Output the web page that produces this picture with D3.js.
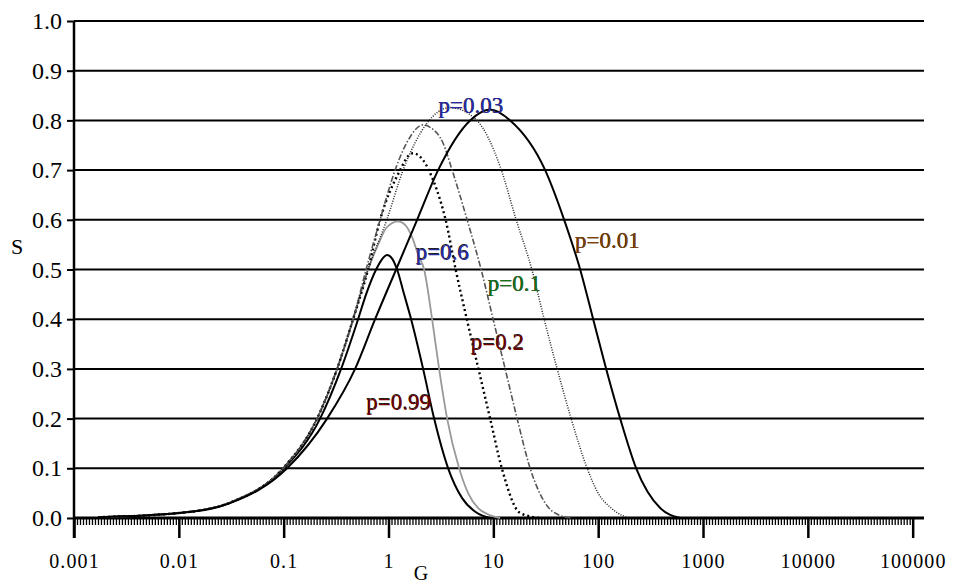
<!DOCTYPE html>
<html>
<head>
<meta charset="utf-8">
<script src="https://cdn.jsdelivr.net/npm/d3@7"></script>
<style>
  body { margin: 0; background: #fff; }
  svg { display: block; }
  text { font-family: "Liberation Serif", "Times New Roman", serif; }
</style>
</head>
<body>
<svg width="960" height="585"></svg>
<script>
// tick labels
const xTicks = [0.001, 0.01, 0.1, 1, 10, 100, 1000, 10000, 100000];
const xTickLabels = ['0.001', '0.01', '0.1', '1', '10', '100', '1000', '10000', '100000'];
const yTicks = [0, 0.1, 0.2, 0.3, 0.4, 0.5, 0.6, 0.7, 0.8, 0.9, 1.0];

// curves: [G, S]
const p099 = [[0.0017, 0.0017], [0.01, 0.01], [0.03, 0.03], [0.0987, 0.098], [0.2225, 0.2], [0.353, 0.3],
  [0.5128, 0.4], [0.6111, 0.45], [0.7616, 0.5], [0.8501, 0.518], [0.9696, 0.529], [1.082, 0.522],
  [1.208, 0.5], [1.409, 0.45], [1.643, 0.4], [2.1389, 0.3], [2.724, 0.2], [3.705, 0.1],
  [5.0393, 0.04], [7.0049, 0.01], [9.3218, 0]];
const p06 = [[0.0017, 0.0017], [0.01, 0.01], [0.03, 0.03], [0.0987, 0.1], [0.2083, 0.2], [0.3232, 0.3],
  [0.4594, 0.4], [0.6386, 0.5], [0.7958, 0.55], [0.9634, 0.585], [1.2348, 0.597], [1.44, 0.59],
  [1.68, 0.565], [1.9165, 0.53], [2.1863, 0.5], [2.6062, 0.4], [3.0392, 0.3], [3.6241, 0.2],
  [4.718, 0.1], [5.748, 0.05], [7.161, 0.02], [8.7298, 0.008], [11.612, 0]];
const p02 = [[0.0017, 0.0017], [0.01, 0.01], [0.03, 0.03], [0.0987, 0.1], [0.2083, 0.2], [0.3232, 0.3],
  [0.4594, 0.4], [0.6386, 0.5], [0.8313, 0.6], [1.2903, 0.7], [1.5382, 0.728], [1.7171, 0.734],
  [2.1389, 0.72], [2.6642, 0.68], [3.1071, 0.64], [3.507, 0.6], [4.37, 0.5], [5.5861, 0.4],
  [7.2078, 0.3], [9.3218, 0.2], [12.053, 0.1], [18.02, 0.01], [27.97, 0]];
const p01 = [[0.0017, 0.0017], [0.01, 0.01], [0.03, 0.03], [0.0987, 0.1], [0.2083, 0.2], [0.3232, 0.3],
  [0.4594, 0.4], [0.6111, 0.5], [0.8313, 0.6], [1.1561, 0.7], [1.5382, 0.76], [2.1389, 0.791],
  [2.494, 0.786], [3.3189, 0.754], [4.045, 0.7], [5.6234, 0.6], [7.6478, 0.5], [9.9566, 0.4],
  [12.9622, 0.3], [16.8743, 0.2], [22.4407, 0.1], [31.2095, 0.03], [43.3871, 0.005], [56.48, 0]];
const p003 = [[0.0017, 0.0017], [0.01, 0.01], [0.03, 0.03], [0.0987, 0.1], [0.2083, 0.2], [0.3232, 0.3],
  [0.4594, 0.4], [0.6386, 0.5], [0.9634, 0.6], [1.3781, 0.7], [2.32, 0.794], [3.87, 0.826],
  [6.96, 0.8], [11.612, 0.707], [16.51, 0.6], [23.3, 0.5], [30.53, 0.4], [40.62, 0.3], [55.26, 0.2],
  [78.52, 0.1], [100, 0.05], [133, 0.02], [169.4, 0.005], [202, 0]];
const p001 = [[0.0017, 0.0017], [0.01, 0.01], [0.03, 0.029], [0.1077, 0.1], [0.2595, 0.2], [0.4801, 0.3],
  [0.745, 0.4], [1.1817, 0.5], [1.875, 0.6], [2.9734, 0.7], [6.006, 0.8], [9.3218, 0.822],
  [14.4697, 0.8], [31.2095, 0.7], [47.3717, 0.6], [67.34, 0.5], [89.6, 0.4], [119.2, 0.3],
  [162.2, 0.2], [230.5, 0.1], [390.5, 0.02], [606, 0]];

const series = [
  { name: 'p=0.99', data: p099, stroke: '#000', width: 2, dash: null },
  { name: 'p=0.6', data: p06, stroke: '#999', width: 1.8, dash: null },
  { name: 'p=0.2', data: p02, stroke: '#000', width: 2.4, dash: '2,3' },
  { name: 'p=0.1', data: p01, stroke: '#555', width: 1.6, dash: '6,2,1.5,2' },
  { name: 'p=0.03', data: p003, stroke: '#222', width: 1.5, dash: '1,1.5' },
  { name: 'p=0.01', data: p001, stroke: '#000', width: 2, dash: null },
];

const labels = [
  { text: 'p=0.03', G: 6.14, S: 0.831, color: '#2a2aa0' },
  { text: 'p=0.6', G: 3.28, S: 0.536, color: '#2a2aa0' },
  { text: 'p=0.1', G: 15.96, S: 0.472, color: '#167016' },
  { text: 'p=0.2', G: 10.99, S: 0.355, color: '#700000' },
  { text: 'p=0.99', G: 1.257, S: 0.234, color: '#700000' },
  { text: 'p=0.01', G: 123.2, S: 0.559, color: '#7e4000' },
];

const svg = d3.select('svg');
const plotLeft = 74, plotRight = 924, plotTop = 21, plotBottom = 518;

const x = d3.scaleLog().domain([0.001, Math.pow(10, 5.108)]).range([plotLeft, plotRight]);
const y = d3.scaleLinear().domain([0, 1]).range([plotBottom, plotTop]);

// horizontal grid
svg.append('g')
  .selectAll('line')
  .data(yTicks)
  .join('line')
  .attr('x1', plotLeft).attr('x2', plotRight)
  .attr('y1', (d) => y(d)).attr('y2', (d) => y(d))
  .attr('stroke', '#000')
  .attr('stroke-width', 2);

// y axis
const yAxis = svg.append('g')
  .attr('transform', `translate(${plotLeft},0)`)
  .call(d3.axisLeft(y).tickValues(yTicks).tickFormat(d3.format('.1f')).tickSize(7).tickPadding(5));
yAxis.select('.domain').remove();
yAxis.selectAll('.tick line').attr('stroke-width', 2);
yAxis.selectAll('.tick text').attr('font-size', 24).attr('fill', '#000');
svg.append('line')
  .attr('x1', plotLeft).attr('x2', plotLeft).attr('y1', plotTop).attr('y2', plotBottom + 20)
  .attr('stroke', '#000').attr('stroke-width', 2.5);

// minor x ticks
const minorTicks = [];
for (let dec = -3; dec < 5; dec++) {
  for (let k = 1; k < 35; k++) minorTicks.push(Math.pow(10, dec + k / 35));
}
svg.append('g')
  .attr('transform', `translate(0,${plotBottom})`)
  .call(d3.axisBottom(x).tickValues(minorTicks).tickFormat('').tickSize(7))
  .call((g) => g.select('.domain').remove())
  .selectAll('.tick line').attr('stroke-width', 1.3);

// major x ticks
const xAxis = svg.append('g')
  .attr('transform', `translate(0,${plotBottom})`)
  .call(d3.axisBottom(x).tickValues(xTicks).tickFormat((d, i) => xTickLabels[i]).tickSize(20).tickPadding(16));
xAxis.select('.domain').remove();
xAxis.selectAll('.tick line').attr('stroke-width', 2.5);
xAxis.selectAll('.tick text').attr('font-size', 20).attr('letter-spacing', 1.1).attr('fill', '#000');
svg.append('line')
  .attr('x1', plotLeft).attr('x2', plotRight).attr('y1', plotBottom).attr('y2', plotBottom)
  .attr('stroke', '#000').attr('stroke-width', 3);

// curves
const line = d3.line()
  .x((d) => x(d[0]))
  .y((d) => y(d[1]))
  .curve(d3.curveMonotoneX);

svg.append('g')
  .selectAll('path')
  .data(series)
  .join('path')
  .attr('d', (d) => line(d.data))
  .attr('fill', 'none')
  .attr('stroke', (d) => d.stroke)
  .attr('stroke-width', (d) => d.width)
  .attr('stroke-dasharray', (d) => d.dash);

// curve labels: dark copy underneath, colour on top
const lab = svg.append('g').selectAll('g').data(labels).join('g')
  .attr('transform', (d) => `translate(${x(d.G)},${y(d.S)})`);
lab.append('text')
  .attr('x', -0.6).attr('y', -0.5)
  .attr('text-anchor', 'middle').attr('dy', '0.35em')
  .attr('font-size', 23).attr('fill', '#222')
  .text((d) => d.text);
lab.append('text')
  .attr('text-anchor', 'middle').attr('dy', '0.35em')
  .attr('font-size', 23).attr('fill', (d) => d.color)
  .text((d) => d.text);

// axis titles
svg.append('text').attr('x', 421).attr('y', 580).attr('text-anchor', 'middle')
  .attr('font-size', 20).text('G');
svg.append('text').attr('x', 17).attr('y', 254).attr('text-anchor', 'middle')
  .attr('font-size', 22).text('S');
</script>
</body>
</html>
